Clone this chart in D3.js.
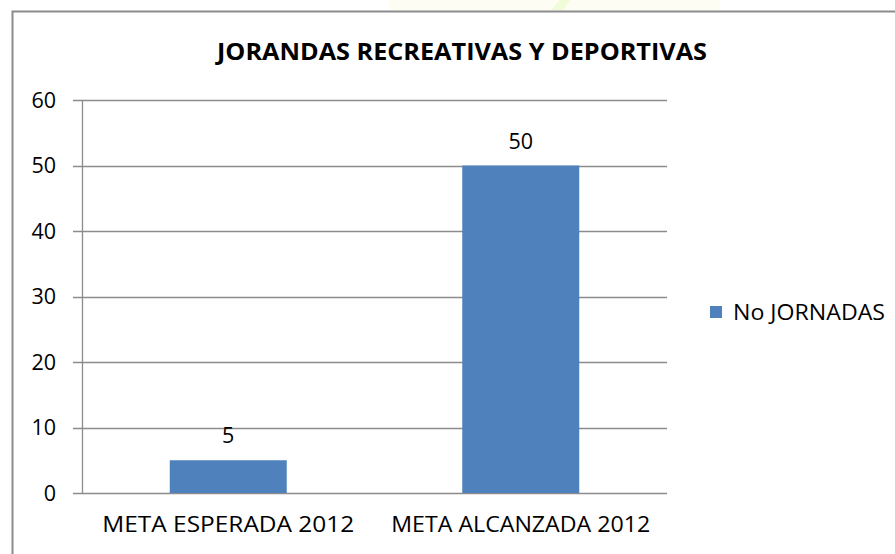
<!DOCTYPE html>
<html><head><meta charset="utf-8">
<script src="https://cdn.jsdelivr.net/npm/d3@7/dist/d3.min.js"></script>
<style>body{margin:0;background:#fff}svg{display:block}</style>
</head><body>
<svg id="c" width="895" height="554"></svg>
<script>
const categories = ["META ESPERADA 2012", "META ALCANZADA 2012"];
const values = [5, 50];
const seriesName = "No JORNADAS";
const yTicks = [0, 10, 20, 30, 40, 50, 60];
const title = "JORANDAS RECREATIVAS Y DEPORTIVAS";

const svg = d3.select("#c");
const font = "'Open Sans', Lato, sans-serif";
const plot = {left: 82, right: 667, top: 100, bottom: 493};

// faint watermark at top
svg.append("rect").attr("x", 390).attr("y", 0).attr("width", 330).attr("height", 10).attr("fill", "#fdfdf3");
svg.append("path").attr("d", "M551,10 L560,0 L570,0 L563,10 Z").attr("fill", "#f0fbd8");

// frame
svg.append("path").attr("d", "M12.5,554 L12.5,11.5 L895,11.5").attr("fill", "none").attr("stroke", "#8c8c8c").attr("stroke-width", 2);

const x = d3.scaleBand().domain(categories).range([plot.left, plot.right]).paddingInner(0.6).paddingOuter(0.3);
const y = d3.scaleLinear().domain([0, 60]).range([plot.bottom, plot.top]);

// gridlines
svg.append("g").selectAll("line").data(yTicks).join("line")
  .attr("x1", plot.left - 9).attr("x2", plot.right)
  .attr("y1", d => Math.round(y(d)) + 0.5).attr("y2", d => Math.round(y(d)) + 0.5)
  .attr("stroke", "#8c8c8c").attr("stroke-width", 1.3);

// y axis line
svg.append("line").attr("x1", plot.left + 0.5).attr("x2", plot.left + 0.5)
  .attr("y1", plot.top).attr("y2", plot.bottom + 0.5).attr("stroke", "#8c8c8c").attr("stroke-width", 1.3);

// y tick labels
svg.append("g").selectAll("text").data(yTicks).join("text")
  .attr("x", 56).attr("y", d => y(d) + 7.5).attr("text-anchor", "end")
  .attr("font-family", font).attr("font-size", 21.5).attr("fill", "#000").text(d => d);

// bars
svg.append("g").selectAll("rect").data(values).join("rect")
  .attr("x", (d, i) => x(categories[i])).attr("width", x.bandwidth())
  .attr("y", d => y(d)).attr("height", d => y(0) - y(d)).attr("fill", "#4f81bd");

// value labels
svg.append("g").selectAll("text").data(values).join("text")
  .attr("x", (d, i) => x(categories[i]) + x.bandwidth() / 2).attr("y", d => y(d) - 17)
  .attr("text-anchor", "middle").attr("font-family", font).attr("font-size", 21.5).text(d => d);

// category labels
const catW = [252, 259];
svg.append("g").selectAll("text").data(categories).join("text")
  .attr("x", d => x(d) + x.bandwidth() / 2).attr("y", 532)
  .attr("text-anchor", "middle").attr("font-family", font).attr("font-size", 21.5)
  .attr("textLength", (d, i) => catW[i]).attr("lengthAdjust", "spacingAndGlyphs").text(d => d);

// title
svg.append("text").attr("x", 462).attr("y", 60).attr("text-anchor", "middle")
  .attr("font-family", font).attr("font-weight", "bold").attr("font-size", 22.5)
  .attr("textLength", 490).attr("lengthAdjust", "spacingAndGlyphs").text(title);

// legend
svg.append("rect").attr("x", 710).attr("y", 306).attr("width", 12).attr("height", 12).attr("fill", "#4f81bd");
svg.append("text").attr("x", 733).attr("y", 320).attr("font-family", font).attr("font-size", 21.5)
  .attr("textLength", 152).attr("lengthAdjust", "spacingAndGlyphs").text(seriesName);
</script>
</body></html>
